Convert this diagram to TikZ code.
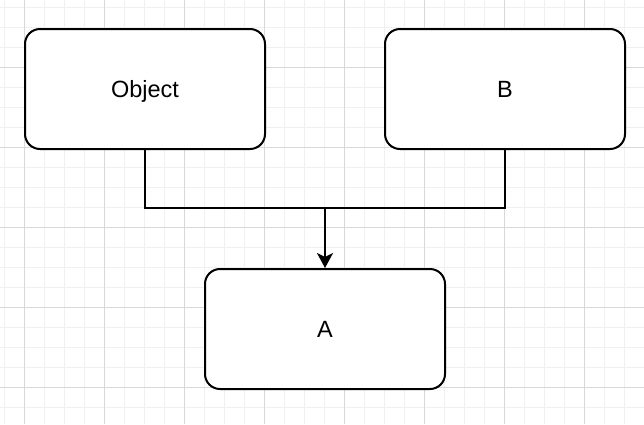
\documentclass[tikz,border=0pt]{standalone}
\usepackage{fontspec}
\setmainfont{Liberation Sans}
\usetikzlibrary{arrows.meta}
\definecolor{gridminor}{HTML}{F0F0F0}
\definecolor{gridmajor}{HTML}{D8D8D8}
\tikzset{
  box/.style={draw=black, line width=2pt, fill=white, rounded corners=15pt,
    minimum width=240pt, minimum height=120pt, inner sep=0pt,
    text height=17pt, text depth=0pt,
    font=\fontsize{23.5pt}{28pt}\selectfont},
  conn/.style={draw=black, line width=2pt},
  arrowconn/.style={conn, -{Stealth[length=15pt,width=16pt,inset=4pt]}}
}
\begin{document}
\begin{tikzpicture}[x=1pt,y=-1pt]
\useasboundingbox (0,0) rectangle (644,424);
\fill[white] (0,0) rectangle (644,424);
% minor grid
\foreach \gx in {4,24,...,644} \draw[gridminor, line width=1pt] (\gx,0) -- (\gx,424);
\foreach \gy in {7,27,...,424} \draw[gridminor, line width=1pt] (0,\gy) -- (644,\gy);
% major grid
\foreach \gx in {24,104,...,644} \draw[gridmajor, line width=1pt] (\gx,0) -- (\gx,424);
\foreach \gy in {67,147,...,424} \draw[gridmajor, line width=1pt] (0,\gy) -- (644,\gy);

\node[box] (obj) at (145,89) {Object};
\node[box] (b) at (505,89) {B};
\node[box] (a) at (325,329) {A};
\coordinate (j) at (325,208);
\draw[conn] (obj.south) |- (j) -| (b.south);
\draw[arrowconn] (j) -- (a.north);
\end{tikzpicture}
\end{document}
